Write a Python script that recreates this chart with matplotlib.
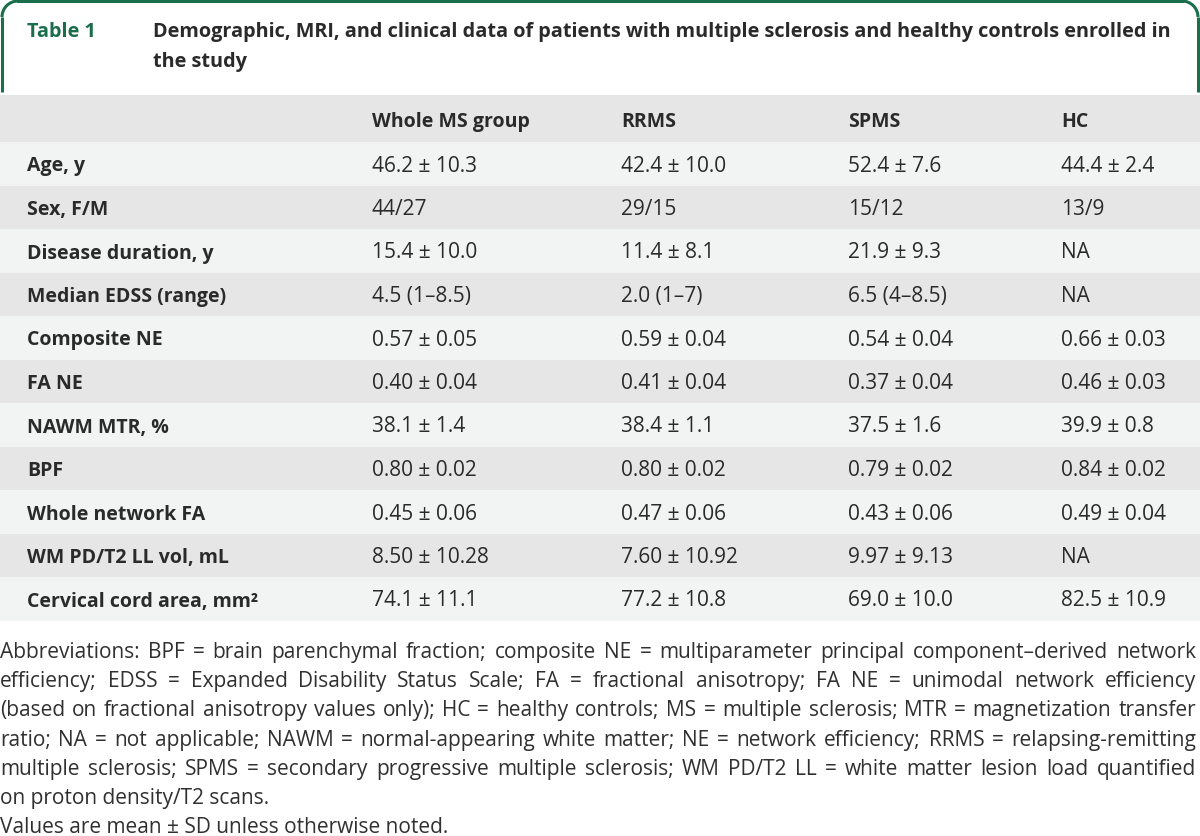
import matplotlib
matplotlib.use('Agg')
import matplotlib.pyplot as plt
from matplotlib.patches import Rectangle, Arc

# Данные таблицы
col_names = ['Whole MS group', 'RRMS', 'SPMS', 'HC']
row_names = ['Age, y', 'Sex, F/M', 'Disease duration, y', 'Median EDSS (range)',
             'Composite NE', 'FA NE', 'NAWM MTR, %', 'BPF', 'Whole network FA',
             'WM PD/T2 LL vol, mL', 'Cervical cord area, mm\u00b2']
whole_ms = ['46.2 \u00b1 10.3', '44/27', '15.4 \u00b1 10.0', '4.5 (1\u20138.5)', '0.57 \u00b1 0.05',
            '0.40 \u00b1 0.04', '38.1 \u00b1 1.4', '0.80 \u00b1 0.02', '0.45 \u00b1 0.06',
            '8.50 \u00b1 10.28', '74.1 \u00b1 11.1']
rrms = ['42.4 \u00b1 10.0', '29/15', '11.4 \u00b1 8.1', '2.0 (1\u20137)', '0.59 \u00b1 0.04',
        '0.41 \u00b1 0.04', '38.4 \u00b1 1.1', '0.80 \u00b1 0.02', '0.47 \u00b1 0.06',
        '7.60 \u00b1 10.92', '77.2 \u00b1 10.8']
spms = ['52.4 \u00b1 7.6', '15/12', '21.9 \u00b1 9.3', '6.5 (4\u20138.5)', '0.54 \u00b1 0.04',
        '0.37 \u00b1 0.04', '37.5 \u00b1 1.6', '0.79 \u00b1 0.02', '0.43 \u00b1 0.06',
        '9.97 \u00b1 9.13', '69.0 \u00b1 10.0']
hc = ['44.4 \u00b1 2.4', '13/9', 'NA', 'NA', '0.66 \u00b1 0.03', '0.46 \u00b1 0.03',
      '39.9 \u00b1 0.8', '0.84 \u00b1 0.02', '0.49 \u00b1 0.04', 'NA', '82.5 \u00b1 10.9']

title_lines = ['Demographic, MRI, and clinical data of patients with multiple sclerosis and healthy controls enrolled in',
               'the study']
foot_lines = [
    'Abbreviations: BPF = brain parenchymal fraction; composite NE = multiparameter principal component\u2013derived network',
    'efficiency; EDSS = Expanded Disability Status Scale; FA = fractional anisotropy; FA NE = unimodal network efficiency',
    '(based on fractional anisotropy values only); HC = healthy controls; MS = multiple sclerosis; MTR = magnetization transfer',
    'ratio; NA = not applicable; NAWM = normal-appearing white matter; NE = network efficiency; RRMS = relapsing-remitting',
    'multiple sclerosis; SPMS = secondary progressive multiple sclerosis; WM PD/T2 LL = white matter lesion load quantified',
    'on proton density/T2 scans.',
    'Values are mean \u00b1 SD unless otherwise noted.',
]

green = '#1b6e4c'
dark = '#2a2a2a'
bold_font = 'Open Sans'
reg_font = 'Open Sans'
foot_font = 'Open Sans'

fig = plt.figure(figsize=(12, 8.36), dpi=100)
ax = fig.add_axes([0, 0, 1, 1])
ax.set_xlim(0, 1200)
ax.set_ylim(836, 0)
ax.axis('off')

# Рамка заголовка
lw = 2.2
r = 16
ax.plot([2, 2], [92, r + 1], color=green, lw=lw, solid_capstyle='butt')
ax.plot([1198, 1198], [92, r + 1], color=green, lw=lw, solid_capstyle='butt')
ax.plot([r + 2, 1198 - r], [1, 1], color=green, lw=lw)
ax.add_patch(Arc((r + 2, r + 1), 2 * r, 2 * r, theta1=180, theta2=270, color=green, lw=lw))
ax.add_patch(Arc((1198 - r, r + 1), 2 * r, 2 * r, theta1=270, theta2=360, color=green, lw=lw))

ax.text(27, 37, 'Table 1', color=green, fontsize=14.3, fontweight='bold', family=bold_font, va='baseline')
for i, line in enumerate(title_lines):
    ax.text(153, 37 + i * 30, line, color=dark, fontsize=14.3, fontweight='bold', family=bold_font,
            va='baseline')

# Таблица
col_x = [372, 621, 848, 1061]
top = 95
head_h = 47
row_h = 43.5
ax.add_patch(Rectangle((0, top), 1200, head_h, color='#e6e6e6', lw=0))
for j, name in enumerate(col_names):
    ax.text(col_x[j], top + 32, name, color=dark, fontsize=14, fontweight='bold',
            family=bold_font, va='baseline')

columns = [whole_ms, rrms, spms, hc]
for i, name in enumerate(row_names):
    y0 = top + head_h + i * row_h
    ax.add_patch(Rectangle((0, y0), 1200, row_h, color='#f2f3f3' if i % 2 == 0 else '#e6e6e6', lw=0))
    ax.text(27, y0 + 29.5, name, color=dark, fontsize=14, fontweight='bold',
            family=bold_font, va='baseline')
    for j, col in enumerate(columns):
        ax.text(col_x[j], y0 + 29.5, col[i], color=dark, fontsize=15,
                family=reg_font, va='baseline')

# Примечания, выровненные по ширине
renderer = fig.canvas.get_renderer()
inv = ax.transData.inverted()
left, right = 0, 1196
fs_foot = 15
for k, line in enumerate(foot_lines):
    y = 658 + k * 29.2
    justify = k < 5
    if not justify:
        ax.text(left, y, line, color='#303030', fontsize=fs_foot, family=foot_font, va='baseline')
        continue
    words = line.split(' ')
    objs = [ax.text(0, y, w, color='#303030', fontsize=fs_foot, family=foot_font, va='baseline')
            for w in words]
    widths = []
    for t in objs:
        bb = t.get_window_extent(renderer)
        x0 = inv.transform((bb.x0, bb.y0))[0]
        x1 = inv.transform((bb.x1, bb.y0))[0]
        widths.append(x1 - x0)
    gap = (right - left - sum(widths)) / (len(words) - 1)
    x = left
    for t, w in zip(objs, widths):
        t.set_x(x)
        x += w + gap

fig.savefig('out.png', dpi=100, facecolor='white')
